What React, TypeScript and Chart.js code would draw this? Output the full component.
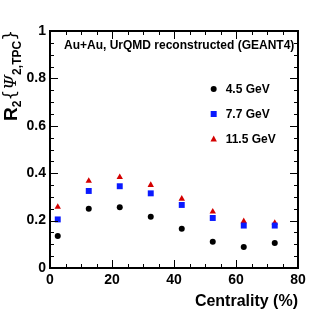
import React, { useEffect, useRef } from "react";
import { Chart, registerables } from "chart.js";

Chart.register(...registerables);

const centrality = [2.5, 12.5, 22.5, 32.5, 42.5, 52.5, 62.5, 72.5];
const r2_4p5 = [0.135, 0.25, 0.256, 0.216, 0.166, 0.111, 0.089, 0.105];
const r2_7p7 = [0.205, 0.325, 0.345, 0.315, 0.266, 0.211, 0.179, 0.179];
const r2_11p5 = [0.258, 0.367, 0.383, 0.35, 0.292, 0.238, 0.197, 0.19];
const seriesLabels = ["4.5 GeV", "7.7 GeV", "11.5 GeV"];
const yTicks = [0, 0.2, 0.4, 0.6, 0.8, 1];
const xTicks = [0, 20, 40, 60, 80];
const annotation = "Au+Au, UrQMD reconstructed (GEANT4)";
const xTitle = "Centrality (%)";

const FONT = "'Liberation Sans', Arial, Helvetica, sans-serif";

const framePlugin = {
  id: "frame",
  afterDraw(chart: any) {
    const ctx = chart.ctx;
    const { left, right, top, bottom } = chart.chartArea;
    const xs = chart.scales.x;
    const ys = chart.scales.y;
    ctx.save();
    ctx.strokeStyle = "#000";
    ctx.lineWidth = 1;
    // minor/major ticks x
    for (let v = 0; v <= 80; v += 5) {
      const px = Math.round(xs.getPixelForValue(v)) + 0.5;
      const len = v % 20 === 0 ? 8 : 4;
      ctx.beginPath();
      ctx.moveTo(px, bottom);
      ctx.lineTo(px, bottom - len);
      ctx.moveTo(px, top);
      ctx.lineTo(px, top + len);
      ctx.stroke();
    }
    for (let i = 0; i <= 20; i++) {
      const v = i * 0.05;
      const py = Math.round(ys.getPixelForValue(v)) + 0.5;
      const len = i % 4 === 0 ? 8 : 4;
      ctx.beginPath();
      ctx.moveTo(left, py);
      ctx.lineTo(left + len, py);
      ctx.moveTo(right, py);
      ctx.lineTo(right - len, py);
      ctx.stroke();
    }
    ctx.lineWidth = 2;
    ctx.strokeRect(left, top, right - left, bottom - top);

    // annotation
    ctx.fillStyle = "#000";
    ctx.font = `bold 12px ${FONT}`;
    ctx.textBaseline = "middle";
    ctx.textAlign = "left";
    ctx.fillText(annotation, left + 14, top + 15);

    // legend
    const lx = left + (right - left) * 0.66;
    const ly0 = top + 58;
    const dy = 25;
    ctx.font = `bold 12px ${FONT}`;
    chart.data.datasets.forEach((ds: any, i: number) => {
      const cy = ly0 + i * dy;
      ctx.fillStyle = ds.backgroundColor;
      ctx.beginPath();
      if (ds.pointStyle === "circle") {
        ctx.arc(lx, cy, 3, 0, Math.PI * 2);
      } else if (ds.pointStyle === "rect") {
        ctx.rect(lx - 3, cy - 3, 6, 6);
      } else {
        ctx.moveTo(lx, cy - 3.5);
        ctx.lineTo(lx + 3.2, cy + 2.5);
        ctx.lineTo(lx - 3.2, cy + 2.5);
        ctx.closePath();
      }
      ctx.fill();
      ctx.fillStyle = "#000";
      ctx.fillText(ds.label, lx + 12, cy + 1);
    });

    // x title
    ctx.font = `bold 16px ${FONT}`;
    ctx.textAlign = "right";
    ctx.textBaseline = "alphabetic";
    ctx.fillText(xTitle, right, 306);

    // y title R2{Psi2,TPC}
    ctx.save();
    ctx.translate(17, 121);
    ctx.rotate(-Math.PI / 2);
    ctx.textAlign = "left";
    let x = 0;
    const big = `bold 19px ${FONT}`;
    const sub = `bold 12px ${FONT}`;
    const part = (t: string, f: string, dyv: number) => {
      ctx.font = f;
      ctx.fillText(t, x, dyv);
      x += ctx.measureText(t).width;
    };
    part("R", big, 0);
    part("2", sub, 4);
    part("{", `17px 'DejaVu Sans', sans-serif`, -1);
    part("\u03A8", `italic 17px 'DejaVu Serif', serif`, -1);
    part("2,TPC", sub, 4);
    part("}", `17px 'DejaVu Sans', sans-serif`, -1);
    ctx.restore();
    ctx.restore();
  },
};

export default function App() {
  const ref = useRef<HTMLCanvasElement>(null);
  useEffect(() => {
    const mk = (v: number[]) => centrality.map((c, i) => ({ x: c, y: v[i] }));
    const chart = new Chart(ref.current!, {
      type: "scatter",
      data: {
        datasets: [
          { label: seriesLabels[0], data: mk(r2_4p5), pointStyle: "circle", pointRadius: 3, backgroundColor: "#000000", borderColor: "#000000", borderWidth: 0 },
          { label: seriesLabels[1], data: mk(r2_7p7), pointStyle: "rect", pointRadius: 4.2, backgroundColor: "#0a1aff", borderColor: "#0a1aff", borderWidth: 0 },
          { label: seriesLabels[2], data: mk(r2_11p5), pointStyle: "triangle", pointRadius: 3.7, backgroundColor: "#d40000", borderColor: "#d40000", borderWidth: 0 },
        ],
      },
      options: {
        animation: false,
        responsive: false,
        devicePixelRatio: 1,
        layout: { padding: { left: 0, top: 31, right: 34, bottom: 0 } },
        plugins: { legend: { display: false }, tooltip: { enabled: false } },
        scales: {
          x: {
            type: "linear",
            min: 0,
            max: 80,
            afterBuildTicks: (s: any) => { s.ticks = xTicks.map((v) => ({ value: v })); },
            afterFit: (s: any) => { s.height = 48; },
            grid: { display: false, drawTicks: false },
            border: { display: false },
            ticks: { color: "#000", padding: 4, font: { family: FONT, size: 14, weight: "bold" }, maxRotation: 0 },
          },
          y: {
            type: "linear",
            min: 0,
            max: 1,
            afterBuildTicks: (s: any) => { s.ticks = yTicks.map((v) => ({ value: v })); },
            afterFit: (s: any) => { s.width = 50; },
            grid: { display: false, drawTicks: false },
            border: { display: false },
            ticks: {
              color: "#000",
              padding: 4,
              font: { family: FONT, size: 14, weight: "bold" },
              callback: (v: any) => (v === 0 || v === 1 ? String(v) : Number(v).toFixed(1)),
            },
          },
        },
      },
      plugins: [framePlugin],
    } as any);
    return () => chart.destroy();
  }, []);
  return (
    <div style={{ position: "absolute", left: 0, top: 0, width: 332, height: 316, background: "#fff" }}>
      <canvas ref={ref} width={332} height={316} style={{ display: "block" }} />
    </div>
  );
}
